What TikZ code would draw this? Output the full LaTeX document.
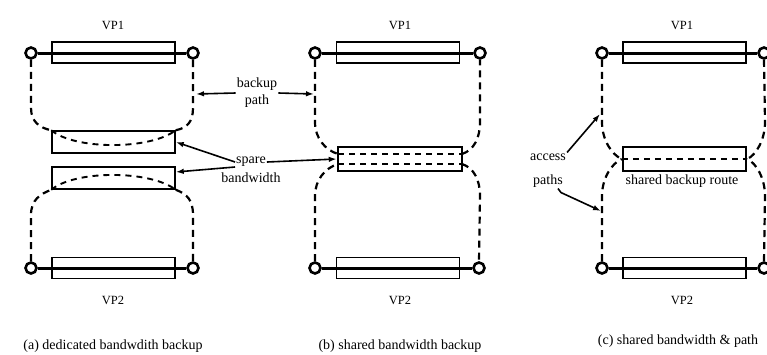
\documentclass[tikz,border=0pt]{standalone}
\usepackage{fontspec}
\setmainfont{Liberation Serif}
\usetikzlibrary{arrows.meta}
\begin{document}
\begin{tikzpicture}[x=1pt,y=-1pt,
  term/.style={circle,draw,line width=2.6pt,minimum size=11pt,inner sep=0pt,fill=white},
  vpbox/.style={draw,line width=1.5pt,minimum width=123pt,minimum height=21pt,inner sep=0pt},
  sparebox/.style={draw,line width=1.5pt,minimum width=123pt,minimum height=22pt,inner sep=0pt},
  sharedbox/.style={draw,line width=2.5pt,minimum width=124pt,minimum height=24pt,inner sep=0pt},
  vpline/.style={line width=3pt},
  bk/.style={line width=2.2pt,dash pattern=on 7pt off 5pt},
  innerdash/.style={line width=1.9pt,dash pattern=on 6pt off 5pt},
  lbl/.style={font=\fontsize{14}{17}\selectfont,inner sep=1pt},
  vplbl/.style={font=\fontsize{12.5}{15}\selectfont,inner sep=1pt},
  ptr/.style={line width=1.6pt,-{Latex[length=8pt,width=5.5pt]}},
]
\useasboundingbox (0,0) rectangle (767,354);

% ---------- (a) dedicated bandwidth backup ----------
\node[vpbox] (aVP1) at (113.5,52.5) {};
\node[vpbox] (aVP2) at (113.5,268) {};
\node[term] (aL1) at (31,53) {};
\node[term] (aR1) at (193,53) {};
\node[term] (aL2) at (31,268) {};
\node[term] (aR2) at (193,268) {};
\draw[vpline] (aL1) -- (aR1);
\draw[vpline] (aL2) -- (aR2);
\node[vplbl] (aT1) at (113,25) {VP1};
\node[vplbl] (aT2) at (113,300) {VP2};

\node[sparebox] (aS1) at (113.5,142) {};
\node[sparebox] (aS2) at (113.5,178) {};

\draw[bk] (aL1.south) -- (31,108) .. controls (31,122) and (40,128) .. (aS1.north west);
\draw[innerdash] (aS1.north west) .. controls (75,150) and (150,150) .. (aS1.north east);
\draw[bk] (aS1.north east) .. controls (187,128) and (193,122) .. (193,108) -- (aR1.south);

\draw[bk] (aL2.north) -- (31,215) .. controls (31,200) and (40,194) .. (aS2.south west);
\draw[innerdash] (aS2.south west) .. controls (75,170) and (150,170) .. (aS2.south east);
\draw[bk] (aS2.south east) .. controls (187,194) and (193,200) .. (193,215) -- (aR2.north);

\node[lbl] (aCap) at (113,346) {(a) dedicated bandwdith backup};

% ---------- (b) shared bandwidth backup ----------
\node[vpbox] (bVP1) at (398,52.5) {};
\node[vpbox] (bVP2) at (398,268) {};
\node[term] (bL1) at (315,53) {};
\node[term] (bR1) at (480,53) {};
\node[term] (bL2) at (315,268) {};
\node[term] (bR2) at (479,268) {};
\draw[vpline] (bL1) -- (bR1);
\draw[vpline] (bL2) -- (bR2);
\node[vplbl] (bT1) at (400,25) {VP1};
\node[vplbl] (bT2) at (400,300) {VP2};

\node[sharedbox] (bS) at (400,159) {};
\coordinate (bIn1) at (338,154);
\coordinate (bOut1) at (462,154);
\coordinate (bIn2) at (338,164);
\coordinate (bOut2) at (462,164);

\draw[bk] (bL1.south) -- (315,122) .. controls (315,138) and (325,150) .. (bIn1);
\draw[innerdash] (bIn1) -- (bOut1);
\draw[bk] (bOut1) .. controls (474,150) and (480,138) .. (480,122) -- (bR1.south);

\draw[bk] (bL2.north) -- (315,196) .. controls (315,180) and (325,168) .. (bIn2);
\draw[innerdash] (bIn2) -- (bOut2);
\draw[bk] (bOut2) .. controls (474,168) and (480,180) .. (480,196) -- (bR2.north);

\node[lbl] (bCap) at (400,346) {(b) shared bandwidth backup};

% ---------- (c) shared bandwidth & path ----------
\node[vpbox] (cVP1) at (684.5,52.5) {};
\node[vpbox] (cVP2) at (684.5,268) {};
\node[term] (cL1) at (602,53) {};
\node[term] (cR1) at (764,53) {};
\node[term] (cL2) at (602,268) {};
\node[term] (cR2) at (764,268) {};
\draw[vpline] (cL1) -- (cR1);
\draw[vpline] (cL2) -- (cR2);
\node[vplbl] (cT1) at (682,25) {VP1};
\node[vplbl] (cT2) at (682,300) {VP2};

\node[sharedbox,minimum width=123pt] (cS) at (684.5,159) {};
\draw[innerdash] (cS.west) -- (cS.east);

\draw[bk] (cL1.south) -- (602,122) .. controls (602,140) and (612,155) .. (cS.west);
\draw[bk] (cL2.north) -- (602,196) .. controls (602,178) and (612,163) .. (cS.west);
\draw[bk] (cR1.south) -- (765,122) .. controls (765,140) and (756,155) .. (cS.east);
\draw[bk] (cR2.north) -- (765,196) .. controls (765,178) and (756,163) .. (cS.east);

\node[lbl] (cRoute) at (682,181) {shared backup route};
\node[lbl] (cCap) at (678,341) {(c) shared bandwidth \& path};

% ---------- labels with pointers ----------
\node[lbl,align=center] (bp) at (257,93) {backup\\path};
\coordinate (bpA) at (196,94);
\coordinate (bpB) at (314,94);
\draw[ptr] (bp.west) -- (bpA);
\draw[ptr] (bp.east) -- (bpB);

\node[lbl] (sp) at (251,162) {spare};
\node[lbl] (bw) at (251,178) {bandwidth};
\draw[ptr] (sp.west) -- (aS1.east);
\draw[ptr] ([yshift=-5pt]sp.west) -- ([yshift=6pt]aS2.east);
\draw[ptr] (sp.east) -- (bS.west);

\node[lbl] (acc) at (548,157) {access};
\node[lbl] (pth) at (548,181) {paths};
\coordinate (accT) at (600,114);
\coordinate (pthT) at (601,211);
\draw[ptr] (acc.north east) -- (accT);
\draw[ptr] ([xshift=-6pt]pth.south east) -- ++(3,4) -- (pthT);
\end{tikzpicture}
\end{document}
